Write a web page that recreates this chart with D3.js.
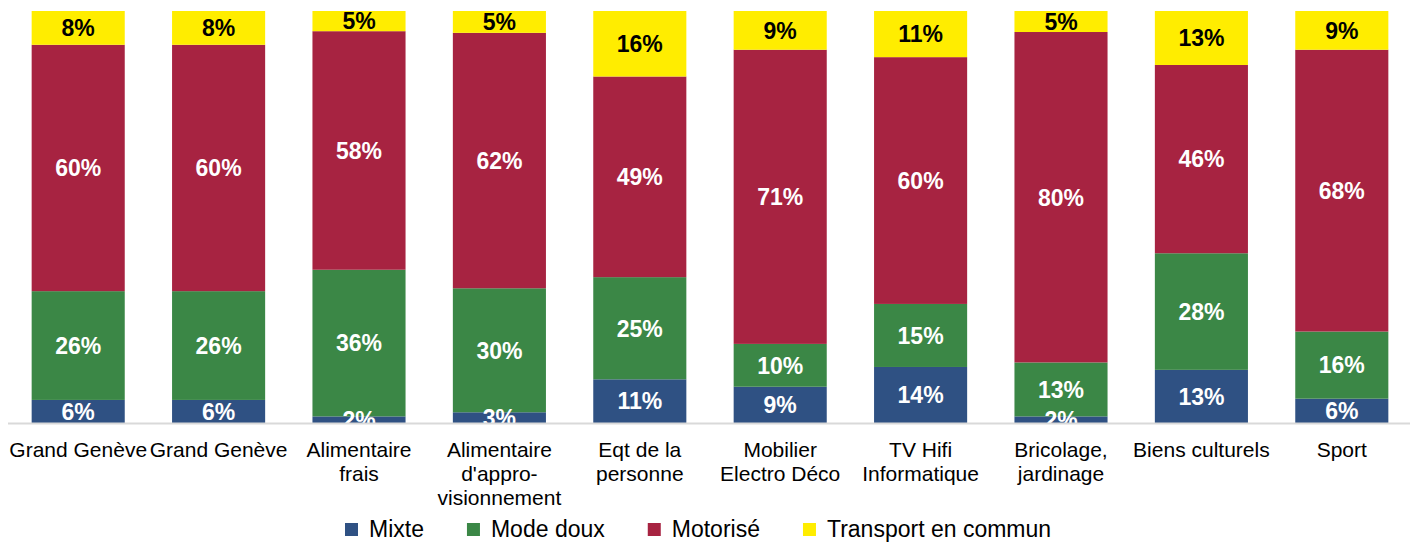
<!DOCTYPE html>
<html>
<head>
<meta charset="utf-8">
<script src="https://cdn.jsdelivr.net/npm/d3@7"></script>
<style>
  body { margin: 0; background: #fff; }
  svg { display: block; font-family: "Liberation Sans", Arial, sans-serif; }
</style>
</head>
<body>
<svg id="chart"></svg>
<script>
// categories (x-axis, one string per line)
const categories = [
  ['Grand Genève'],
  ['Grand Genève'],
  ['Alimentaire', 'frais'],
  ['Alimentaire', "d'appro-", 'visionnement'],
  ['Eqt de la', 'personne'],
  ['Mobilier', 'Electro Déco'],
  ['TV Hifi', 'Informatique'],
  ['Bricolage,', 'jardinage'],
  ['Biens culturels'],
  ['Sport']
];

const seriesNames = ['Mixte', 'Mode doux', 'Motorisé', 'Transport en commun'];

// shares in %
const mixte     = [5.6, 5.6, 1.6, 2.6, 10.6, 8.8, 13.6, 1.6, 12.9, 5.9];
const modeDoux  = [26.4, 26.4, 35.6, 30.1, 24.8, 10.4, 15.3, 13.1, 28.3, 16.3];
const motorise  = [59.8, 59.8, 57.9, 62.0, 48.7, 71.4, 59.9, 80.2, 45.7, 68.4];
const transport = [8.2, 8.2, 4.9, 5.3, 15.9, 9.4, 11.2, 5.1, 13.1, 9.4];

const colors = ['#2f5183', '#3b8746', '#a72341', '#ffed00'];
const labelColors = ['#fff', '#fff', '#fff', '#000'];

const width = 1417, height = 544;
const margin = { top: 11, right: 5, bottom: 121, left: 8 };
const plotW = width - margin.left - margin.right;
const plotH = height - margin.top - margin.bottom;

const rows = categories.map((c, i) => ({
  idx: i,
  'Mixte': mixte[i],
  'Mode doux': modeDoux[i],
  'Motorisé': motorise[i],
  'Transport en commun': transport[i]
}));

const svg = d3.select('#chart').attr('width', width).attr('height', height);
const g = svg.append('g').attr('transform', `translate(${margin.left},${margin.top})`);

const x = d3.scaleBand()
  .domain(d3.range(categories.length))
  .range([0, plotW])
  .paddingInner(0.337)
  .paddingOuter(0.1685);

const y = d3.scaleLinear().domain([0, 100]).range([plotH, 0]);

const stacked = d3.stack().keys(seriesNames)(rows);

g.append('defs').append('clipPath').attr('id', 'plotclip')
  .append('rect').attr('x', 0).attr('y', -margin.top).attr('width', plotW).attr('height', plotH + margin.top);

// bars
const layers = g.selectAll('g.layer')
  .data(stacked)
  .join('g')
  .attr('class', 'layer')
  .attr('fill', (d, i) => colors[i]);

layers.selectAll('rect')
  .data(d => d)
  .join('rect')
  .attr('x', d => x(d.data.idx))
  .attr('y', d => y(d[1]))
  .attr('width', x.bandwidth())
  .attr('height', d => y(d[0]) - y(d[1]));

// value labels
const labelG = g.append('g').attr('clip-path', 'url(#plotclip)');
stacked.forEach((layer, si) => {
  labelG.selectAll(null)
    .data(layer)
    .join('text')
    .attr('x', d => x(d.data.idx) + x.bandwidth() / 2)
    .attr('y', d => (y(d[0]) + y(d[1])) / 2)
    .attr('dy', '0.36em')
    .attr('text-anchor', 'middle')
    .attr('font-size', '23px')
    .attr('font-weight', 'bold')
    .attr('fill', labelColors[si])
    .text(d => Math.round(d[1] - d[0]) + '%');
});

// axis baseline
g.append('line')
  .attr('x1', 0).attr('x2', plotW - 2)
  .attr('y1', plotH + 0.5).attr('y2', plotH + 0.5)
  .attr('stroke', '#d9d9d9')
  .attr('stroke-width', 2);

// category labels
const xAxis = g.append('g').attr('transform', `translate(0,${plotH})`);
categories.forEach((lines, i) => {
  const t = xAxis.append('text')
    .attr('x', x(i) + x.bandwidth() / 2)
    .attr('y', 34)
    .attr('text-anchor', 'middle')
    .attr('font-size', '21px')
    .attr('fill', '#000');
  lines.forEach((ln, k) => {
    t.append('tspan')
      .attr('x', x(i) + x.bandwidth() / 2)
      .attr('dy', k === 0 ? 0 : 24)
      .text(ln);
  });
});

// legend
const legend = svg.append('g').attr('transform', 'translate(345,529)');
let lx = 0;
seriesNames.forEach((name, i) => {
  const item = legend.append('g').attr('transform', `translate(${lx},0)`);
  item.append('rect')
    .attr('x', 0).attr('y', -6)
    .attr('width', 13).attr('height', 13)
    .attr('fill', colors[i]);
  const txt = item.append('text')
    .attr('x', 24)
    .attr('y', 0)
    .attr('dy', '0.35em')
    .attr('font-size', '23px')
    .attr('fill', '#000')
    .text(name);
  lx += 24 + txt.node().getComputedTextLength() + 43;
});
</script>
</body>
</html>
